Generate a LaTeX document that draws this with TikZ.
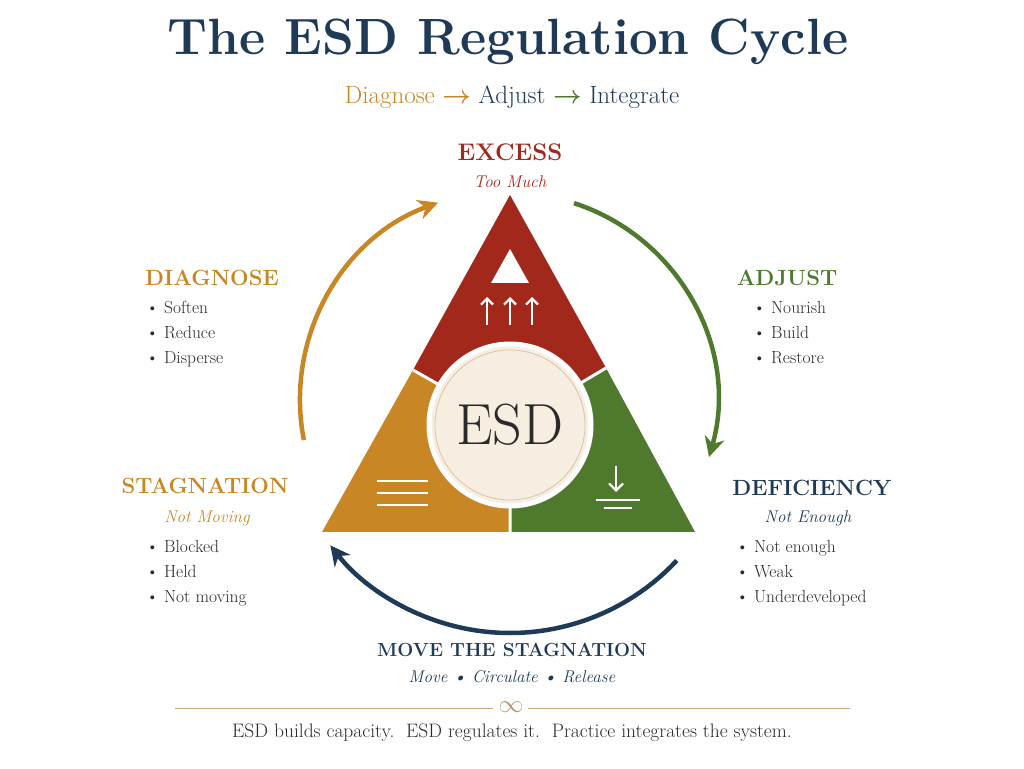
\documentclass[tikz,border=0pt]{standalone}
\usepackage{amsmath}
\usetikzlibrary{arrows.meta,positioning}
\definecolor{navy}{HTML}{1F3A57}
\definecolor{ochre}{HTML}{C98624}
\definecolor{brick}{HTML}{A3281C}
\definecolor{moss}{HTML}{4F7A2E}
\definecolor{cream}{HTML}{F7EEE2}
\definecolor{tan}{HTML}{C9A97A}
\definecolor{ink}{HTML}{2A2A2A}
\tikzset{
  head/.style={font=\fontsize{22}{24}\selectfont\bfseries},
  sub/.style={font=\fontsize{17}{19}\selectfont\itshape},
  items/.style={font=\fontsize{17.5}{25}\selectfont, text=ink, align=left, anchor=north west, inner sep=0pt},
  cyc/.style={line width=4.5pt, -{Stealth[length=20pt,width=20pt]}},
  glyph/.style={white, line width=2.2pt},
}
\newcommand{\itm}[3]{\textbullet\ #1\\\textbullet\ #2\\\textbullet\ #3}
\begin{document}
\begin{tikzpicture}[x=1pt,y=1pt]
  \useasboundingbox (0,0) rectangle (1024,768);
  % title
  \node[font=\fontsize{51}{54}\selectfont\bfseries, text=navy] (title) at (508,726) {The ESD Regulation Cycle};
  \node[font=\fontsize{25}{28}\selectfont] (steps) at (512,671)
    {\textcolor{ochre}{Diagnose} \textcolor{ochre}{$\boldsymbol\rightarrow$} \textcolor{navy}{Adjust} \textcolor{moss}{$\boldsymbol\rightarrow$} \textcolor{navy}{Integrate}};
  % triangle
  \coordinate (apex) at (510,573);
  \coordinate (bl) at (322,236);
  \coordinate (br) at (695,236);
  \coordinate (c) at (510,343);
  \coordinate (l) at (413,398);
  \coordinate (r) at (606,400);
  \coordinate (b) at (510,236);
  \fill[brick] (apex) -- (r) -- (c) -- (l) -- cycle;
  \fill[ochre] (l) -- (c) -- (b) -- (bl) -- cycle;
  \fill[moss] (r) -- (c) -- (b) -- (br) -- cycle;
  \draw[white, line width=3pt] (l) -- (c) -- (r) (c) -- (b);
  \node[circle, fill=cream, draw=white, line width=5pt, minimum size=162pt] (esd) at (c) {};
  \draw[tan!70, line width=0.8pt] (c) circle (75);
  \node[font=\fontsize{58}{60}\selectfont, text=ink] at (c) {ESD};
  % icons
  \fill[white] (510,519) -- (529,485) -- (491,485) -- cycle;
  \foreach \x in {487,510,532}
    \draw[glyph, -{Straight Barb[length=6pt]}] (\x,443) -- (\x,471);
  \foreach \y in {287,275,263}
    \draw[glyph] (377,\y) -- (428,\y);
  \draw[glyph, -{Straight Barb[length=7pt]}] (616,302) -- (616,276);
  \draw[glyph] (596,268) -- (640,268) (604,260) -- (632,260);
  % cycle arrows
  \draw[cyc, ochre] (510,368) ++(191:210) arc (191:110:210);
  \draw[cyc, moss] (510,368) ++(72:207) arc (72:-16:207);
  \draw[cyc, navy] (510,363) ++(-43:228) arc (-43:-142:228);
  % labels
  \node[head, font=\fontsize{24}{26}\selectfont\bfseries, text=brick] (excess) at (510,616) {EXCESS};
  \node[sub, text=brick] (toomuch) at (510,586) {Too Much};
  \node[head, text=ochre] (diag) at (212,490) {DIAGNOSE};
  \node[items] (diagl) at (146,467) {\itm{Soften}{Reduce}{Disperse}};
  \node[head, text=moss] (adj) at (787,490) {ADJUST};
  \node[items] (adjl) at (753,467) {\itm{Nourish}{Build}{Restore}};
  \node[head, text=ochre] (stag) at (205,282) {STAGNATION};
  \node[sub, text=ochre] (notmov) at (207,250) {Not Moving};
  \node[items] (stagl) at (146,228) {\itm{Blocked}{Held}{Not moving}};
  \node[head, text=navy] (def) at (812,280) {DEFICIENCY};
  \node[sub, text=navy] (notenough) at (808,250) {Not Enough};
  \node[items] (defl) at (736,228) {\itm{Not enough}{Weak}{Underdeveloped}};
  \node[head, font=\fontsize{19}{21}\selectfont\bfseries, text=navy] (move) at (512,118) {MOVE THE STAGNATION};
  \node[sub, text=navy] (moves) at (512,91) {Move \textbullet\ Circulate \textbullet\ Release};
  % footer
  \draw[tan, line width=1pt] (175,60) -- (493,60) (528,60) -- (850,60);
  \node[text=tan!90!black, font=\fontsize{24}{24}\selectfont] (infty) at (511,61) {$\infty$};
  \node[font=\fontsize{19.5}{21}\selectfont, text=ink] (foot) at (512,35)
    {ESD builds capacity.\ \ ESD regulates it.\ \ Practice integrates the system.};
\end{tikzpicture}
\end{document}
